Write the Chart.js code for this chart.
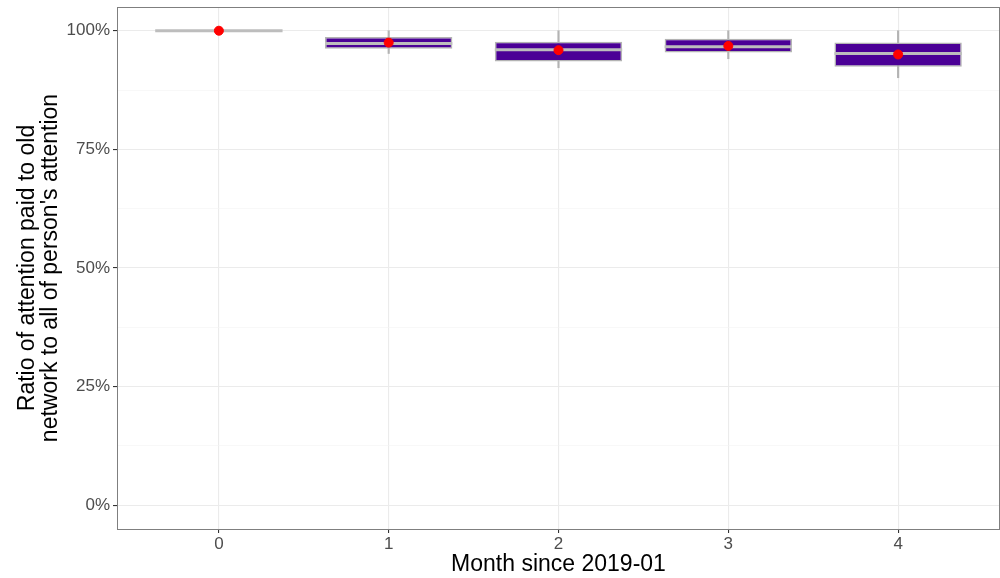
<!DOCTYPE html>
<html>
<head>
<meta charset="utf-8">
<script src="https://cdn.jsdelivr.net/npm/chart.js@4/dist/chart.umd.min.js"></script>
<style>
  html, body { margin: 0; padding: 0; background: #fff; }
  #wrap { width: 1000px; height: 578px; }
</style>
</head>
<body>
<div id="wrap"><canvas id="myChart" width="1000" height="578"></canvas></div>
<script>
// box plot summary per month (ratio, 1 = 100%)
var months = [0, 1, 2, 3, 4];
var lowerWhisker = [1, 0.952, 0.922, 0.941, 0.901];
var q1 = [1, 0.962, 0.935, 0.954, 0.924];
var medians = [1, 0.973, 0.960, 0.966, 0.952];
var q3 = [1, 0.987, 0.977, 0.983, 0.975];
var upperWhisker = [1, 1, 1, 1, 1];
var means = [1, 0.975, 0.959, 0.968, 0.950];

var yTicks = [0, 0.125, 0.25, 0.375, 0.5, 0.625, 0.75, 0.875, 1];
var yTitle = ["Ratio of attention paid to old", "network to all of person's attention"];
var xTitle = "Month since 2019-01";

var halfBox = 0.375;
var tickGrey = '#4d4d4d';

var boxData = [], whiskerData = [], medianData = [], meanData = [];
for (var i = 0; i < months.length; i++) {
    boxData.push({x: months[i], y: [q1[i], q3[i]]});
    whiskerData.push({x: months[i], y: [lowerWhisker[i], upperWhisker[i]]});
    medianData.push({x: months[i] - halfBox, y: medians[i]});
    medianData.push({x: months[i] + halfBox, y: medians[i]});
    medianData.push({x: months[i], y: null});
    meanData.push({x: months[i], y: means[i]});
}

function isMinor(c) {
    return c.tick && Math.round(c.tick.value * 1000) % 250 !== 0;
}

// panel border like theme_bw
var panelBorder = {
    id: 'panelBorder',
    afterDraw: function(chart) {
        var a = chart.chartArea, c = chart.ctx;
        c.save();
        c.strokeStyle = '#7f7f7f';
        c.lineWidth = 1;
        c.strokeRect(a.left + 0.5, a.top + 0.5, a.right - a.left - 1, a.bottom - a.top);
        c.restore();
    }
};

var ctx = document.getElementById('myChart').getContext('2d');
var chart = new Chart(ctx, {
    type: 'bar',
    data: {
        datasets: [{
            type: 'scatter',
            label: 'mean',
            data: meanData,
            backgroundColor: '#ff0000',
            borderColor: '#ff0000',
            pointRadius: 4.5,
            order: 0
        }, {
            type: 'line',
            label: 'median',
            data: medianData,
            borderColor: '#bdbdbd',
            borderWidth: 3,
            pointRadius: 0,
            spanGaps: false,
            fill: false,
            order: 1
        }, {
            label: 'box',
            data: boxData,
            backgroundColor: '#4b0096',
            borderColor: '#b3b3b3',
            borderWidth: 1.5,
            borderSkipped: false,
            grouped: false,
            categoryPercentage: 0.75,
            barPercentage: 1,
            order: 2
        }, {
            label: 'whisker',
            data: whiskerData,
            backgroundColor: '#b3b3b3',
            grouped: false,
            barThickness: 1.5,
            order: 3
        }]
    },
    options: {
        responsive: false,
        animation: false,
        layout: { autoPadding: false, padding: { top: 7, right: 0, left: 0, bottom: 0 } },
        plugins: { legend: { display: false }, tooltip: { enabled: false } },
        scales: {
            x: {
                type: 'linear',
                offset: false,
                min: -0.6,
                max: 4.6,
                afterBuildTicks: function(s) { s.ticks = months.map(function(v) { return {value: v}; }); },
                afterFit: function(s) { s.height = 49; s.paddingLeft = 0; s.paddingRight = 0; },
                ticks: { color: tickGrey, font: { family: 'Liberation Sans', size: 17 }, padding: 1, maxRotation: 0 },
                grid: { offset: false, color: '#ebebeb', lineWidth: 1.1, tickLength: 4, tickColor: '#333333' },
                border: { display: false },
                title: { display: true, text: xTitle, color: '#000', font: { family: 'Liberation Sans', size: 23 }, padding: { top: 0, bottom: 0 } }
            },
            y: {
                min: -0.05,
                max: 1.05,
                afterBuildTicks: function(s) { s.ticks = yTicks.map(function(v) { return {value: v}; }); },
                afterFit: function(s) { s.width = 117; s.paddingTop = 0; s.paddingBottom = 0; },
                ticks: {
                    color: tickGrey,
                    font: { family: 'Liberation Sans', size: 17 },
                    padding: 3,
                    callback: function(v) { return (Math.round(v * 1000) % 250 === 0) ? Math.round(v * 100) + '%' : ''; }
                },
                grid: {
                    color: function(c) { return isMinor(c) ? '#f4f4f4' : '#ebebeb'; },
                    lineWidth: function(c) { return isMinor(c) ? 0.6 : 1.1; },
                    tickLength: 4,
                    tickColor: function(c) { return isMinor(c) ? 'rgba(0,0,0,0)' : '#333333'; }
                },
                border: { display: false },
                title: { display: true, text: yTitle, color: '#000', font: { family: 'Liberation Sans', size: 23, lineHeight: 1.0 }, padding: { top: 16 } }
            }
        }
    },
    plugins: [panelBorder]
});
</script>
</body>
</html>
